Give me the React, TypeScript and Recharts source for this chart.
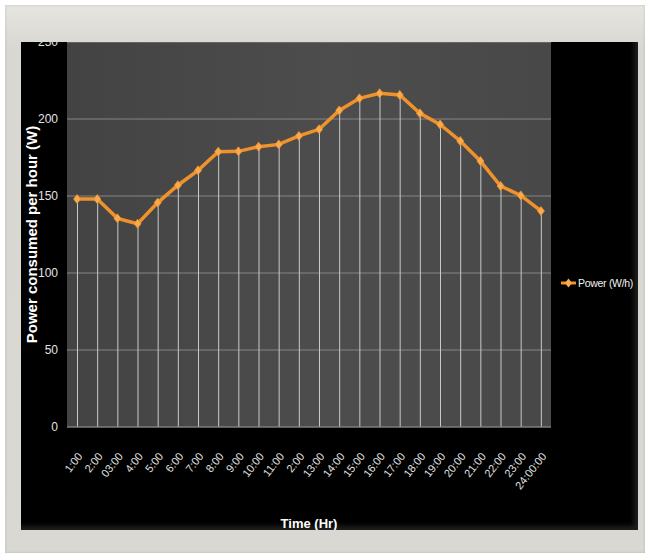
import React from 'react';
import { ComposedChart, Line, Bar, XAxis, YAxis, CartesianGrid, Legend } from 'recharts';

const hours = ['1:00', '2:00', '03:00', '4:00', '5:00', '6:00', '7:00', '8:00', '9:00', '10:00', '11:00', '2:00 ', '13:00', '14:00', '15:00', '16:00', '17:00', '18:00', '19:00', '20:00', '21:00', '22:00', '23:00', '24:00:00'];
const power = [148, 148, 135.5, 132, 145.7, 157, 166.7, 178.8, 179, 182, 183.5, 189, 193.3, 205.6, 213.4, 216.7, 215.6, 203.7, 196.5, 185.7, 172.7, 156.5, 150.4, 140.3];
const yTicks = [0, 50, 100, 150, 200, 250];

const data = hours.map((h, i) => ({ hour: h, power: power[i] }));

const FONT = '"Liberation Sans Narrow", "Liberation Sans", Arial, sans-serif';
const ORANGE = '#f0922c';
const MARKER = '#f8aa4c';

const XTick = (props: any) => {
  const { x, y, payload } = props;
  return (
    <g transform={`translate(${x + 3},${y + 19})`}>
      <text x={0} y={0} dy="0.35em" textAnchor="end" transform="rotate(-52)" fill="#e2e2e2" fontSize={11} fontFamily={FONT}>
        {String(payload.value).trim()}
      </text>
    </g>
  );
};

const YTick = (props: any) => {
  const { x, y, payload } = props;
  const yy = typeof payload?.coordinate === 'number' ? payload.coordinate : y;
  return (
    <text x={x} y={yy} dy="0.36em" textAnchor="end" fill="#e2e2e2" fontSize={12} fontFamily={FONT}>
      {payload.value}
    </text>
  );
};

const Diamond = (props: any) => {
  const { cx, cy } = props;
  if (cx == null || cy == null) return null;
  return <path d={`M${cx},${cy - 4.5} L${cx + 3.5},${cy} L${cx},${cy + 4.5} L${cx - 3.5},${cy} Z`} fill={MARKER} stroke={ORANGE} strokeWidth={0.8} />;
};

const LegendContent = () => (
  <div style={{ display: 'flex', alignItems: 'center', fontFamily: FONT, fontSize: 10.5, letterSpacing: -0.3, color: '#f0f0f0', whiteSpace: 'nowrap' }}>
    <svg width={15} height={12} style={{ marginRight: 2 }}>
      <line x1={0} y1={6} x2={15} y2={6} stroke={ORANGE} strokeWidth={3} />
      <path d="M7.5,1.5 L11,6 L7.5,10.5 L4,6 Z" fill={MARKER} />
    </svg>
    <span>Power (W/h)</span>
  </div>
);

export default function App() {
  return (
    <div style={{ position: 'absolute', left: 0, top: 0, width: 649, height: 556, background: '#ffffff' }}>
      <div
        style={{
          position: 'absolute', left: 5, top: 5, width: 640, height: 548,
          background: 'linear-gradient(#e6e5e0 0%, #d8d7d1 8%, #d9d8d2 100%)',
          boxShadow: 'inset 0 0 3px rgba(0,0,0,0.15)',
        }}
      />
      <div
        style={{
          position: 'absolute', left: 21, top: 42, width: 617, height: 488,
          background: '#000', overflow: 'hidden',
          boxShadow: 'inset -4px -4px 5px rgba(255,255,255,0.12)',
        }}
      >
        <ComposedChart width={617} height={488} data={data} margin={{ top: 0, right: 87, bottom: 0, left: 0 }}>
          <defs>
            <linearGradient id="plotBg" x1="0" y1="0" x2="1" y2="0">
              <stop offset="0%" stopColor="#434343" />
              <stop offset="55%" stopColor="#4d4d4d" />
              <stop offset="100%" stopColor="#484848" />
            </linearGradient>
          </defs>
          <CartesianGrid vertical={false} stroke="#858585" strokeWidth={1} fill="url(#plotBg)" fillOpacity={1} />
          <XAxis
            dataKey="hour"
            height={103}
            tickLine={false}
            axisLine={{ stroke: '#7a7a7a' }}
            interval={0}
            tick={<XTick />}
            label={{ value: 'Time (Hr)', position: 'insideBottom', offset: 2, fill: '#ffffff', fontSize: 13, fontWeight: 'bold', fontFamily: FONT }}
          />
          <YAxis
            width={46}
            domain={[0, 250]}
            ticks={yTicks}
            tickLine={false}
            axisLine={false}
            tickMargin={3}
            tick={<YTick />}
            label={{ value: 'Power consumed per hour (W)', angle: -90, position: 'center', dx: -12, fill: '#ffffff', fontSize: 15, fontWeight: 'bold', fontFamily: FONT }}
          />
          <Legend layout="vertical" align="center" verticalAlign="middle" wrapperStyle={{ left: 540, top: 235, width: 76 }} content={<LegendContent />} />
          <Bar dataKey="power" barSize={1} fill="#c9c9c9" isAnimationActive={false} legendType="none" />
          <Line
            dataKey="power"
            name="Power (W/h)"
            type="linear"
            stroke={ORANGE}
            strokeWidth={3.5}
            dot={<Diamond />}
            activeDot={false}
            isAnimationActive={false}
          />
        </ComposedChart>
      </div>
    </div>
  );
}
